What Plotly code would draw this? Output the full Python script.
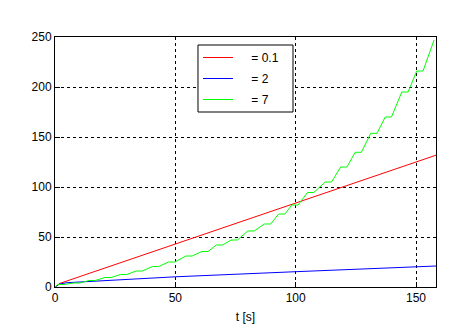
import plotly.graph_objects as go

# Data
red_t = [0, 2, 158.3]
red_v = [0, 3.6, 131.8]

blue_t = [0, 2, 5, 13, 50, 100, 121, 158.3]
blue_v = [0, 3.0, 4.3, 5.3, 10.2, 15.3, 17.3, 21.0]

green_t = [0, 1.2, 3.8, 7.7, 10.3, 14.2, 16.8, 20.7, 23.3, 27.2, 29.8, 33.7, 36.3,
           40.5, 43.1, 47.2, 49.8, 54.4, 57.0, 61.0, 63.6, 67.0, 69.6, 73.2, 75.8,
           80.1, 82.7, 87.0, 89.6, 92.9, 95.5, 98.4, 101.0, 104.9, 107.5, 112.3,
           114.9, 118.7, 121.3, 124.7, 127.3, 131.2, 133.8, 137.2, 139.8, 144.1,
           146.7, 150.3, 152.9, 157.5]
green_v = [0, 2.5, 2.5, 4, 4, 6.5, 6.5, 9.5, 9.5, 12.5, 12.5, 16, 16,
           20.5, 20.5, 25, 25, 31, 31, 35.5, 35.5, 42, 42, 47, 47,
           56, 56, 63, 63, 73, 73, 82, 82, 94.5, 94.5, 105,
           105, 120, 120, 134.7, 134.7, 153.7, 153.7, 170, 170, 195,
           195, 216, 216, 247]

legend_names = ["\u00a0\u00a0\u00a0\u00a0= 0.1",
                "\u00a0\u00a0\u00a0\u00a0= 2",
                "\u00a0\u00a0\u00a0\u00a0= 7"]

x_ticks = [0, 50, 100, 150]
y_ticks = [0, 50, 100, 150, 200, 250]

fig = go.Figure()
fig.add_trace(go.Scatter(x=red_t, y=red_v, mode="lines", name=legend_names[0],
                         legendgroup="a", line=dict(color="#ff0000", width=1)))
fig.add_trace(go.Scatter(x=blue_t, y=blue_v, mode="lines", name=legend_names[1],
                         legendgroup="b", line=dict(color="#0000ff", width=1)))
fig.add_trace(go.Scatter(x=green_t, y=green_v, mode="lines", name=legend_names[2],
                         legendgroup="c", line=dict(color="#00ff00", width=1)))

axis_common = dict(
    showline=True, linecolor="black", linewidth=1, mirror=True,
    ticks="inside", ticklen=5, tickcolor="black", automargin=False,
    showgrid=True, gridcolor="black", gridwidth=1, griddash="3px,3px",
    zeroline=False, tickfont=dict(color="black", size=12,
                                  family="Liberation Sans, Arial, sans-serif"),
)

# legend frame (white box with black border), drawn as a shape under the legend
fig.add_shape(type="rect", xref="paper", yref="paper",
              x0=0.3753, x1=0.6247, y0=0.70, y1=0.968,
              fillcolor="white", line=dict(color="black", width=1), layer="above")

fig.update_layout(
    width=461, height=330,
    margin=dict(l=55, r=25, t=37, b=43),
    paper_bgcolor="white", plot_bgcolor="white",
    font=dict(family="Liberation Sans, Arial, sans-serif", size=12, color="black"),
    xaxis=dict(range=[0, 158.3], tickvals=x_ticks, ticktext=[str(v) for v in x_ticks],
               title=dict(text="t [s]", standoff=8, font=dict(size=12)), **axis_common),
    yaxis=dict(range=[0, 250], tickvals=y_ticks, ticktext=[str(v) for v in y_ticks],
               **axis_common),
    legend=dict(x=0.3753, y=0.976, xanchor="left", yanchor="top",
                bgcolor="rgba(0,0,0,0)", borderwidth=0,
                font=dict(size=12, color="black"), itemwidth=30,
                tracegroupgap=2),
    showlegend=True,
)

fig.write_html("out.html")
